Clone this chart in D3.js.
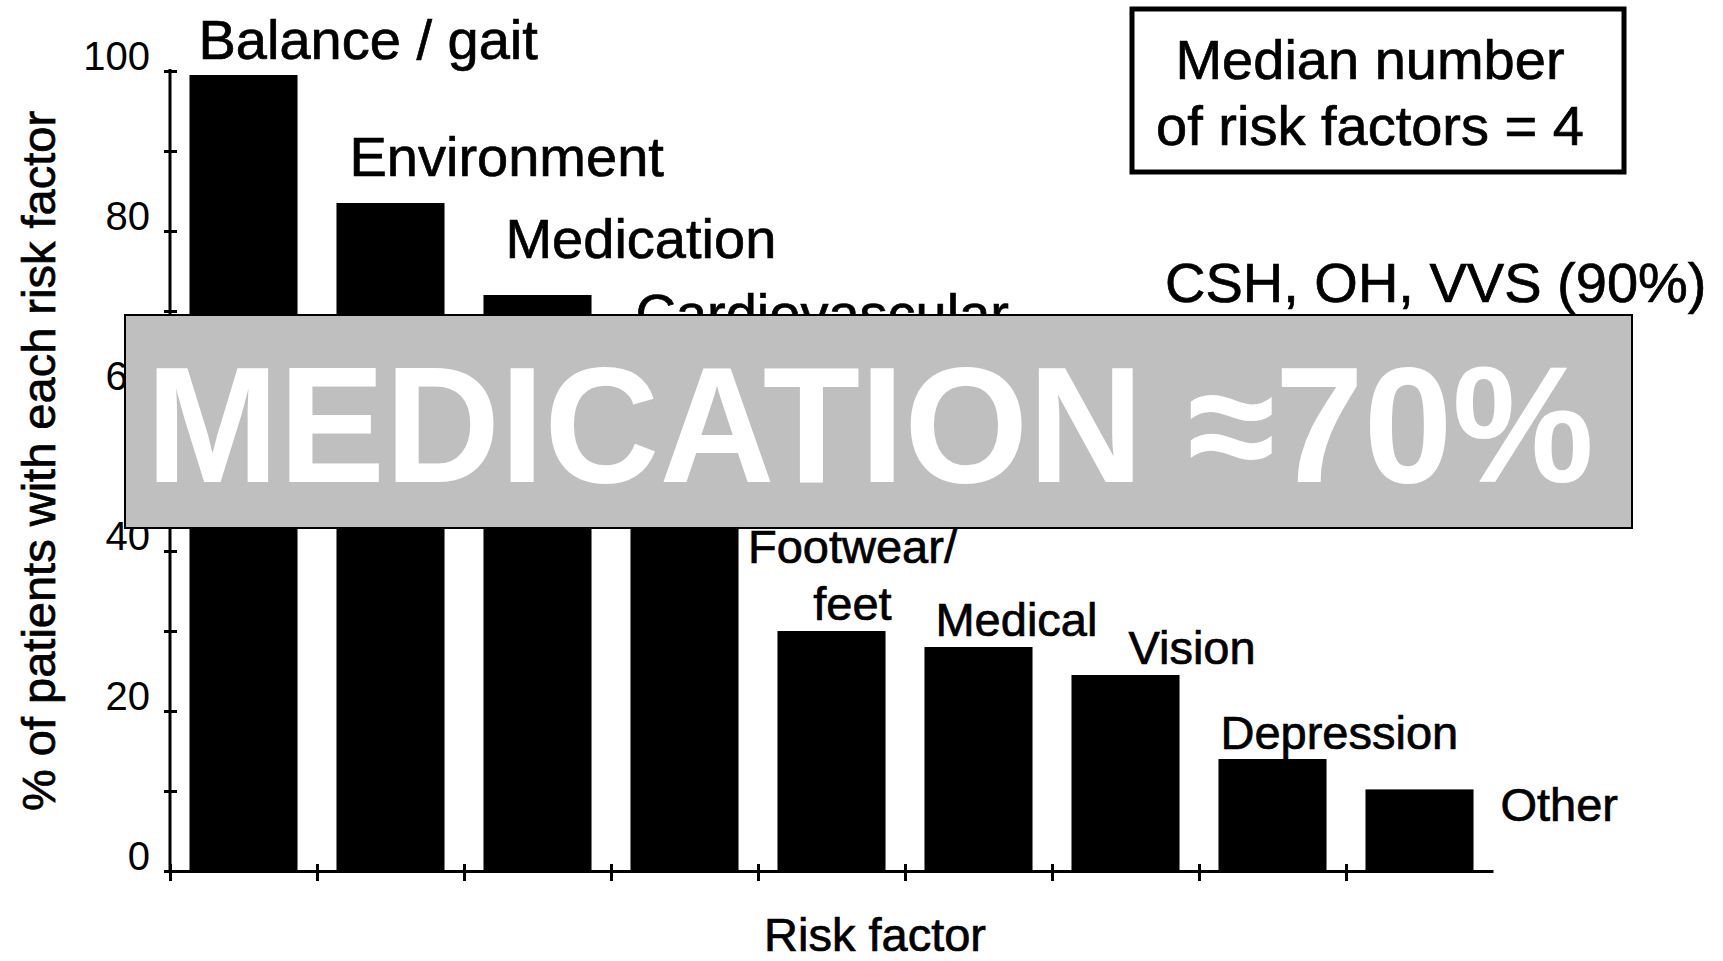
<!DOCTYPE html>
<html lang="en">
  <head>
    <meta charset="UTF-8" />
    <title>Risk factors per patient</title>
    <script src="https://d3js.org/d3.v7.min.js"></script>
    <style>
      body {
        margin: 0;
        background: #fff;
      }
      svg text {
        font-family: "Liberation Sans", Arial, Helvetica, sans-serif;
        fill: #000;
        stroke: #000;
        stroke-width: 0.7px;
      }
      .axis path,
      .axis line {
        stroke: #000;
        stroke-width: 3;
      }
    </style>
  </head>
  <body>
    <div id="chart"></div>

    <script>
      // data
      const categories = [
        "Balance / gait",
        "Environment",
        "Medication",
        "Cardiovascular",
        "Footwear/feet",
        "Medical",
        "Vision",
        "Depression",
        "Other",
      ];
      const categoryLines = [
        ["Balance / gait"],
        ["Environment"],
        ["Medication"],
        ["Cardiovascular"],
        ["Footwear/", "feet"],
        ["Medical"],
        ["Vision"],
        ["Depression"],
        ["Other"],
      ];
      const percentWithFactor = [99.5, 83.5, 72, 65, 30, 28, 24.5, 14, 10.2];
      const yTickValues = [0, 10, 20, 30, 40, 50, 60, 70, 80, 90, 100];
      const yLabelledTicks = [0, 20, 40, 60, 80, 100];
      const yTitle = "% of patients with each risk factor";
      const xTitle = "Risk factor";
      const boxLines = ["Median number", "of risk factors = 4"];
      const cardioNote = "CSH, OH, VVS (90%)";
      const overlayText = "MEDICATION \u224870%";

      // label placement relative to the top-left corner of each bar (layout only)
      const labelNudge = [
        { dx: 9, dy: -16, anchor: "start", size: 56 },
        { dx: 13, dy: -27, anchor: "start", size: 56 },
        { dx: 22, dy: -37, anchor: "start", size: 56 },
        { dx: 5, dy: -18, anchor: "start", size: 56 },
        { dx: 75, dy: -11, anchor: "middle", size: 47 },
        { dx: 11, dy: -11, anchor: "start", size: 47 },
        { dx: 57, dy: -11, anchor: "start", size: 47 },
        { dx: 2, dy: -10, anchor: "start", size: 47 },
        { dx: 135, dy: 32, anchor: "start", size: 47 },
      ];

      const w = 1723;
      const h = 961;
      const plotLeft = 170;
      const plotRight = 1493;
      const plotTop = 71;
      const plotBottom = 871;

      const svg = d3
        .select("#chart")
        .append("svg")
        .attr("width", w)
        .attr("height", h);

      const y = d3.scaleLinear().domain([0, 100]).range([plotBottom, plotTop]);

      const x = d3
        .scaleBand()
        .domain(categories)
        .range([plotLeft, plotRight])
        .paddingInner(0.265)
        .paddingOuter(0.1325);

      // band edges, for the ticks between bars
      const xEdge = d3
        .scaleLinear()
        .domain([0, categories.length])
        .range([plotLeft, plotRight]);

      // bars
      svg
        .selectAll("rect.bar")
        .data(categories)
        .enter()
        .append("rect")
        .attr("class", "bar")
        .attr("x", (d) => x(d))
        .attr("y", (d, i) => y(percentWithFactor[i]))
        .attr("width", x.bandwidth())
        .attr("height", (d, i) => plotBottom - y(percentWithFactor[i]))
        .attr("fill", "#000");

      // x axis
      const xAxis = svg
        .append("g")
        .attr("class", "axis")
        .attr("transform", `translate(0, ${plotBottom})`)
        .call(
          d3
            .axisBottom(xEdge)
            .tickValues(d3.range(0, categories.length))
            .tickSizeOuter(0)
            .tickFormat("")
        );
      xAxis.selectAll(".tick line").attr("y1", -7).attr("y2", 10);

      // y axis
      const yAxis = svg
        .append("g")
        .attr("class", "axis")
        .attr("transform", `translate(${plotLeft}, 0)`)
        .call(
          d3
            .axisLeft(y)
            .tickValues(yTickValues)
            .tickSize(6)
            .tickSizeOuter(0)
            .tickPadding(14)
            .tickFormat((d) => (yLabelledTicks.includes(d) ? d : ""))
        );
      yAxis.selectAll(".tick line").attr("x1", -6).attr("x2", 7);
      yAxis
        .selectAll(".tick text")
        .attr("dy", "-2")
        .style("font-size", "40px")
        .style("stroke", "none")
        .style("font-family", null);
      yAxis.select(".domain").attr("d", `M0,${plotTop - 2}V${plotBottom}`);

      // category labels beside each bar
      categories.forEach((c, i) => {
        const n = labelNudge[i];
        const lines = categoryLines[i];
        const t = svg
          .append("text")
          .attr("x", x(c) + n.dx)
          .attr("y", y(percentWithFactor[i]) + n.dy - (lines.length - 1) * 57)
          .attr("text-anchor", n.anchor)
          .style("font-size", n.size + "px");
        lines.forEach((line, j) => {
          t.append("tspan")
            .attr("x", x(c) + n.dx)
            .attr("dy", j === 0 ? 0 : 57)
            .text(line);
        });
      });

      // axis titles
      svg
        .append("text")
        .attr("x", 875)
        .attr("y", 951)
        .attr("text-anchor", "middle")
        .style("font-size", "47px")
        .text(xTitle);

      svg
        .append("text")
        .attr("transform", "translate(55, 461) rotate(-90)")
        .attr("text-anchor", "middle")
        .style("font-size", "47px")
        .text(yTitle);

      // boxed note
      svg
        .append("rect")
        .attr("x", 1132)
        .attr("y", 9)
        .attr("width", 492)
        .attr("height", 163)
        .attr("fill", "none")
        .attr("stroke", "#000")
        .attr("stroke-width", 5);

      boxLines.forEach((line, i) => {
        svg
          .append("text")
          .attr("x", 1370)
          .attr("y", 79 + i * 66)
          .attr("text-anchor", "middle")
          .style("font-size", "56px")
          .text(line);
      });

      svg
        .append("text")
        .attr("x", 1165)
        .attr("y", 302)
        .style("font-size", "56px")
        .text(cardioNote);

      // grey banner on top
      svg
        .append("rect")
        .attr("x", 125)
        .attr("y", 315)
        .attr("width", 1507)
        .attr("height", 213)
        .attr("fill", "#bfbfbf")
        .attr("stroke", "#000")
        .attr("stroke-width", 2);

      svg
        .append("text")
        .attr("x", 870)
        .attr("y", 482)
        .attr("text-anchor", "middle")
        .attr("textLength", 1448)
        .attr("lengthAdjust", "spacingAndGlyphs")
        .style("font-size", "165px")
        .style("font-weight", "bold")
        .style("fill", "#fff")
        .style("stroke", "none")
        .text(overlayText);
    </script>
  </body>
</html>
